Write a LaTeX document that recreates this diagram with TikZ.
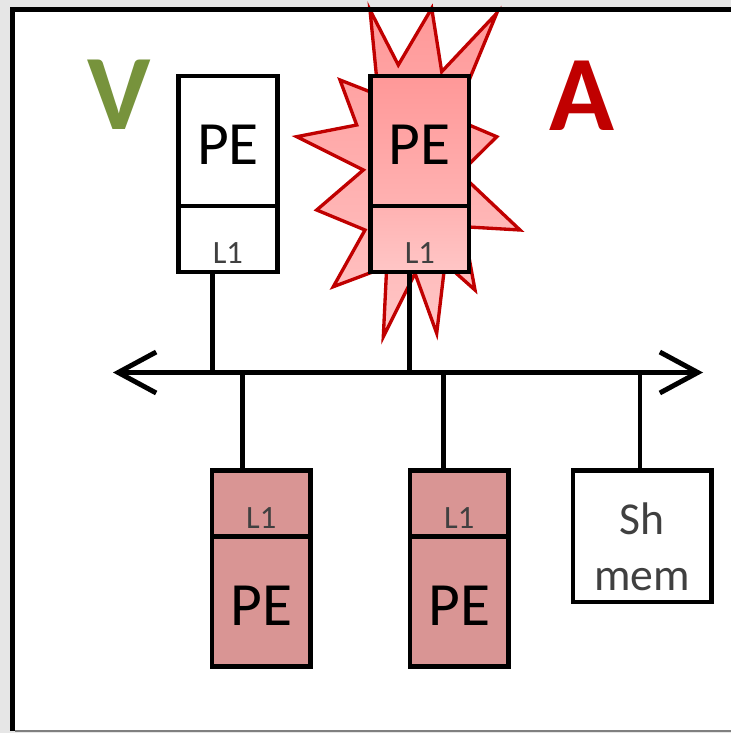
\documentclass[tikz,border=0pt]{standalone}
\usepackage{fontspec}
\setmainfont{Carlito}
\usetikzlibrary{positioning, arrows.meta}

\definecolor{peRed}{RGB}{217,149,148}
\definecolor{hotRed}{RGB}{192,0,0}
\definecolor{okGreen}{RGB}{119,147,60}
\definecolor{pageGray}{RGB}{230,230,230}
\definecolor{txtGray}{RGB}{64,64,64}
\definecolor{glowTop}{RGB}{255,152,152}
\definecolor{glowMid}{RGB}{255,178,178}
\definecolor{glowLow}{RGB}{255,198,198}

\begin{document}
\begin{tikzpicture}[x=0.02cm, y=-0.02cm,
    pe/.style={rectangle, draw=black, line width=2.7pt, outer sep=0pt, inner sep=0pt, minimum width=1.97cm, minimum height=2.6cm, text height=0.96cm, text depth=0pt, font=\fontsize{35}{35}\selectfont},
    cache/.style={pe, minimum height=1.32cm, text height=0.98cm, text depth=0pt, text=txtGray, font=\fontsize{18.5}{18.5}\selectfont},
    link/.style={line width=2.7pt},
    bus/.style={line width=2.8pt, {Straight Barb[length=0.76cm, width=0.82cm]}-{Straight Barb[length=0.76cm, width=0.82cm]}},
    verdict/.style={font=\fontsize{61}{61}\selectfont\bfseries},
    starburst/.style={draw=hotRed, line width=1.9pt, top color=glowTop, bottom color=glowLow}
]
\useasboundingbox (0,0) rectangle (731,733);
\fill[pageGray] (0,0) rectangle (731,733);
\fill[white] (15,11.7) rectangle (731,730);

% the faulty PE gets a burst behind it
\draw[starburst] (370,10) -- (398.3,65) -- (431.7,8.3) -- (441.7,71.7) -- (496.7,13.3) -- (453.3,118.3)
    -- (496.7,136.7) -- (460,173.3) -- (520,230) -- (463.3,226.7) -- (475,290) -- (445,263.3)
    -- (436.7,333.3) -- (415,273.3) -- (383.3,336.7) -- (386.7,266.7) -- (333.3,286.7) -- (365,230)
    -- (316.7,210) -- (363.3,170) -- (296.7,136.7) -- (356.7,125) -- (340,80) -- (378.3,95) -- cycle;

\node[pe] (vpe) at (227.9,141) {PE};
\node[cache, below=0pt of vpe] (vl1) {L1};
\node[pe, right=1.87cm of vpe, top color=glowTop, bottom color=glowMid] (ape) {PE};
\node[cache, below=0pt of ape, top color=glowMid, bottom color=glowLow] (al1) {L1};

\node[cache, fill=peRed] (bl1) at (261.25,503.5) {L1};
\node[pe, fill=peRed, below=0pt of bl1] (bpe1) {PE};
\node[cache, fill=peRed, right=1.99cm of bl1] (bl2) {L1};
\node[pe, fill=peRed, below=0pt of bl2] (bpe2) {PE};
\node[pe, minimum width=2.77cm, minimum height=2.63cm, text height=, text depth=, align=center, text=txtGray, font=\fontsize{26}{32}\selectfont, right=1.29cm of bl2.north east, anchor=north west] (shmem) {\rule{0pt}{1.05cm}Sh\\mem};

\node[verdict, text=okGreen] (vmark) at (119,95) {V};
\node[verdict, text=hotRed] (amark) at (582,96) {A};

% shared bus
\coordinate (busL) at (113,372.5);
\coordinate (busR) at (703,372.5);
\draw[bus] (busL) -- (busR);

\draw[link] ([xshift=-0.31cm]vl1.south) -- ([xshift=-0.31cm]vl1.south |- busL);
\draw[link] ([xshift=-0.21cm]al1.south) -- ([xshift=-0.21cm]al1.south |- busL);
\draw[link] ([xshift=-0.375cm]bl1.north) -- ([xshift=-0.375cm]bl1.north |- busL);
\draw[link] ([xshift=-0.32cm]bl2.north) -- ([xshift=-0.32cm]bl2.north |- busL);
\draw[link] ([xshift=-0.045cm]shmem.north) -- ([xshift=-0.045cm]shmem.north |- busL);

% slide frame
\draw[line width=2.85pt] (12.5,731) -- (12.5,9.2) -- (731,9.2);
\draw[gray, line width=1.2pt] (15,731) -- (731,731);
\end{tikzpicture}
\end{document}
